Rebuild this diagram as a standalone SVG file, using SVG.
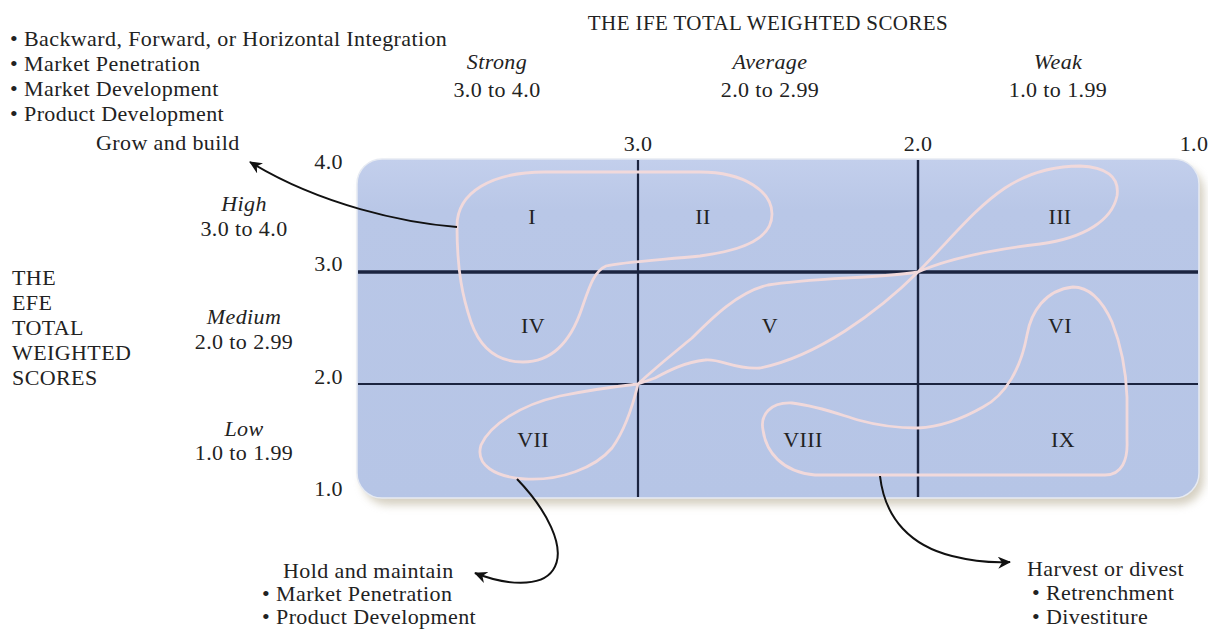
<svg xmlns="http://www.w3.org/2000/svg" width="1208" height="630" viewBox="0 0 1208 630">
<style>
.t{font-family:"Liberation Serif","DejaVu Serif",serif;font-size:22px;fill:#222;letter-spacing:0.4px}
.h{font-size:21px}
.i{font-style:italic}
.m{text-anchor:middle}
.e{text-anchor:end}
.grid{stroke:#1b2440;fill:none}
.loop{fill:none;stroke:#f1d9db;stroke-width:2.8;stroke-linejoin:round}
.arr{fill:none;stroke:#111;stroke-width:2}
</style>
<defs>
<linearGradient id="bg" x1="0" y1="0" x2="0" y2="1">
<stop offset="0" stop-color="#c3cfec"/>
<stop offset="0.15" stop-color="#b9c7e7"/>
<stop offset="1" stop-color="#b6c5e6"/>
</linearGradient>
<filter id="sh" x="-5%" y="-5%" width="110%" height="115%">
<feGaussianBlur stdDeviation="4"/>
</filter>
<marker id="ah" markerWidth="14" markerHeight="12" refX="12" refY="6" orient="auto" markerUnits="userSpaceOnUse">
<path d="M0,0 L13,6 L0,12 L4,6 Z" fill="#111"/>
</marker>
</defs>
<rect width="1208" height="630" fill="#fff"/>

<g id="matrix">
<rect x="362" y="166" width="842" height="339" rx="26" fill="#b3a98f" opacity="0.55" filter="url(#sh)"/>
<rect x="357" y="159" width="842" height="339" rx="25" fill="url(#bg)" stroke="#e6eaf2" stroke-width="1.5"/>
<line class="grid" x1="638" y1="160" x2="638" y2="497" stroke-width="2.2"/>
<line class="grid" x1="918" y1="160" x2="918" y2="497" stroke-width="2.4"/>
<line class="grid" x1="358" y1="272" x2="1198" y2="272" stroke-width="3.4"/>
<line class="grid" x1="358" y1="384" x2="1198" y2="384" stroke-width="2"/>
</g>

<g id="loops">
<path id="loop-grow" class="loop" d="M457,226 C457,192 492,172 545,172 L700,172 C745,172 772,192 772,214 C772,238 745,250 700,256 C660,260 622,262 606,266 C594,271 589,288 582,308 C574,332 558,362 523,362 C492,362 478,342 471,322 C463,298 457,272 457,226 Z"/>
<path id="loop-hold" class="loop" d="M638,384 C655,368 675,352 692,338 C712,318 738,292 768,285 C810,278 880,278 918,272 C945,260 990,250 1040,244 C1085,238 1112,220 1117,196 C1120,176 1105,167 1080,166 C1050,166 1025,175 1005,188 C975,208 950,240 918,272 C890,300 865,318 845,331 C820,347 790,362 760,368 C735,370 720,358 705,360 C685,362 668,371 655,378 L638,384 C620,386 590,390 560,396 C520,405 490,425 481,445 C475,465 495,477 525,479 C560,481 595,468 612,448 C625,430 633,405 638,384 Z"/>
<path id="loop-harvest" class="loop" d="M1073,287 C1045,290 1031,312 1027,335 C1021,368 1006,395 983,407 C962,419 940,427 918,428 C893,428 876,425 858,420 C838,414 818,406 792,403 C770,402 760,415 763,430 C766,452 782,472 815,475 L1105,475 C1122,475 1128,460 1127,440 L1127,397 C1126,370 1121,345 1112,322 C1102,300 1090,287 1073,287 Z"/>
</g>

<g id="connectors">
<path class="arr" d="M457,227 C405,223 320,205 250,162" marker-end="url(#ah)"/>
<path class="arr" d="M517,479 C545,508 568,548 553,570 C541,588 505,585 475,573" marker-end="url(#ah)"/>
<path class="arr" d="M880,476 C885,520 912,546 952,556 C972,561 992,563 1010,562" marker-end="url(#ah)"/>
</g>

<g id="cells" class="t m">
<text x="532" y="224">I</text>
<text x="703" y="224">II</text>
<text x="1060" y="224">III</text>
<text x="533" y="333">IV</text>
<text x="770" y="333">V</text>
<text x="1060" y="333">VI</text>
<text x="533" y="447">VII</text>
<text x="803" y="447">VIII</text>
<text x="1063" y="447">IX</text>
</g>

<g id="axis-top">
<text class="t m h" x="768" y="30">THE IFE TOTAL WEIGHTED SCORES</text>
<text class="t m i" x="497" y="69">Strong</text>
<text class="t m" x="497" y="97">3.0 to 4.0</text>
<text class="t m i" x="770" y="69">Average</text>
<text class="t m" x="770" y="97">2.0 to 2.99</text>
<text class="t m i" x="1058" y="69">Weak</text>
<text class="t m" x="1058" y="97">1.0 to 1.99</text>
<text class="t m" x="638" y="151">3.0</text>
<text class="t m" x="918" y="151">2.0</text>
<text class="t m" x="1194" y="151">1.0</text>
</g>

<g id="axis-left">
<text class="t" x="12" y="285">THE</text>
<text class="t" x="12" y="310">EFE</text>
<text class="t" x="12" y="335">TOTAL</text>
<text class="t" x="12" y="360">WEIGHTED</text>
<text class="t" x="12" y="385">SCORES</text>
<text class="t m i" x="244" y="211">High</text>
<text class="t m" x="244" y="236">3.0 to 4.0</text>
<text class="t m i" x="244" y="324">Medium</text>
<text class="t m" x="244" y="349">2.0 to 2.99</text>
<text class="t m i" x="244" y="436">Low</text>
<text class="t m" x="244" y="460">1.0 to 1.99</text>
<text class="t e" x="343" y="169">4.0</text>
<text class="t e" x="343" y="271">3.0</text>
<text class="t e" x="343" y="384">2.0</text>
<text class="t e" x="343" y="496">1.0</text>
</g>

<g id="grow-build" class="t">
<text x="10" y="46">• Backward, Forward, or Horizontal Integration</text>
<text x="10" y="71">• Market Penetration</text>
<text x="10" y="96">• Market Development</text>
<text x="10" y="121">• Product Development</text>
<text x="96" y="150">Grow and build</text>
</g>

<g id="hold-maintain" class="t">
<text x="283" y="578">Hold and maintain</text>
<text x="262" y="601">• Market Penetration</text>
<text x="262" y="624">• Product Development</text>
</g>

<g id="harvest-divest" class="t">
<text x="1027" y="576">Harvest or divest</text>
<text x="1032" y="600">• Retrenchment</text>
<text x="1032" y="624">• Divestiture</text>
</g>
</svg>
